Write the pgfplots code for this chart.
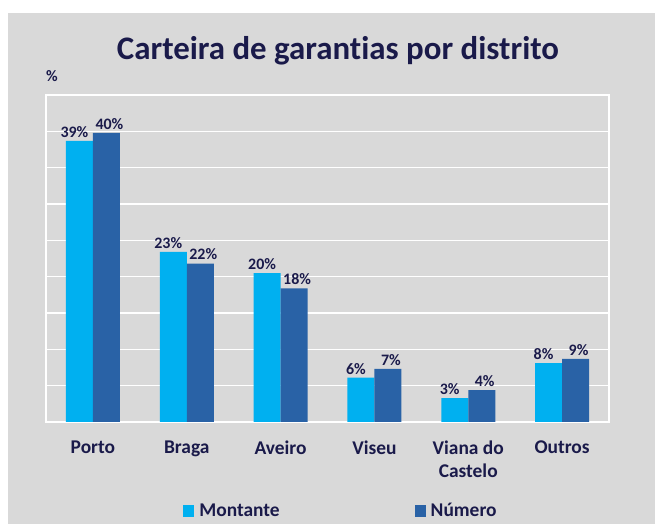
\documentclass[border=0pt]{standalone}
\usepackage{fontspec}
\setmainfont{Carlito}[Ligatures=NoCommon]
\usepackage{pgfplots}
\pgfplotsset{compat=1.18}
\definecolor{bg}{HTML}{D9D9D9}
\definecolor{montante}{HTML}{00B0F0}
\definecolor{numero}{HTML}{2962A6}
\definecolor{navy}{HTML}{1A1A4A}

\begin{document}
\begin{tikzpicture}
% page background with the white margin at left and top
\fill[white] (0bp,0bp) rectangle (655bp,524bp);
\fill[bg] (8bp,0bp) rectangle (655bp,511bp);
\node[anchor=base,font=\bfseries\fontsize{33}{38}\selectfont,text=navy] at (338bp,464bp) {Carteira de garantias por distrito};
\node[anchor=base,font=\bfseries\fontsize{16}{18}\selectfont,text=navy] at (52bp,442bp) {\%};
\begin{axis}[
at={(46bp,102bp)},anchor=south west,
scale only axis,width=563bp,height=327bp,
ymin=0,ymax=45,ytick={0,5,...,45},yticklabels={},
ymajorgrids,grid style={white,line width=1.2bp},
axis line style={white,line width=1.2bp},
major tick length=0pt,
xmin=-0.5,xmax=5.5,xtick={0,...,5},
xticklabels={Porto,Braga,Aveiro,Viseu,{Viana do\\Castelo},Outros},
xticklabel style={align=center,font=\bfseries\fontsize{19.5}{23}\selectfont,text=navy,anchor=north,yshift=-15bp},
ybar=0pt,bar width=27bp,
nodes near coords,point meta=explicit symbolic,
every node near coord/.append style={font=\bfseries\fontsize{16}{18}\selectfont,text=navy},
legend style={at={(0.524,-0.272)},anchor=center,draw=none,fill=none,legend columns=2,
  font=\bfseries\fontsize{19.5}{22}\selectfont,text=navy,
  /tikz/every even column/.append style={column sep=133bp}},
]
\addplot[fill=montante,draw=none,
  legend image code/.code={\fill[montante] (0bp,-6bp) rectangle (11bp,6bp); \path (14bp,0bp);},
  every node near coord/.append style={xshift=-5bp}]
  coordinates {(0,38.7)[39\%] (1,23.4)[23\%] (2,20.5)[20\%] (3,6.1)[6\%] (4,3.3)[3\%] (5,8.1)[8\%]};
\addplot[fill=numero,draw=none,
  legend image code/.code={\fill[numero] (0bp,-6bp) rectangle (11bp,6bp); \path (14bp,0bp);},
  every node near coord/.append style={xshift=3bp}]
  coordinates {(0,39.8)[40\%] (1,21.8)[22\%] (2,18.4)[18\%] (3,7.3)[7\%] (4,4.4)[4\%] (5,8.7)[9\%]};
\legend{Montante,Número}
\end{axis}
\end{tikzpicture}
\end{document}
